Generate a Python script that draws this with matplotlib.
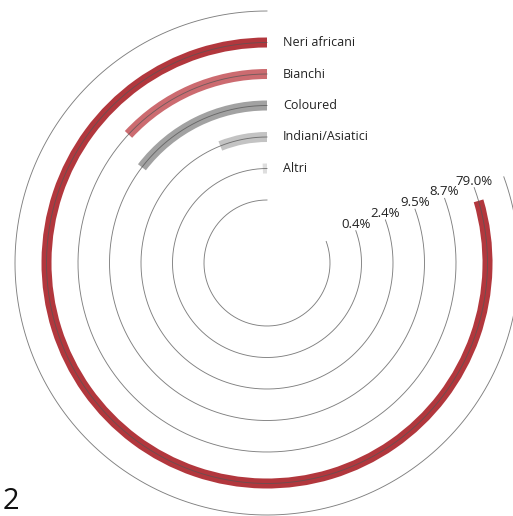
import numpy as np
import matplotlib
matplotlib.use("Agg")
import matplotlib.pyplot as plt

plt.rcParams["font.family"] = ["Open Sans", "DejaVu Sans"]

# dati (dall'interno verso l'esterno)
categorie = ["Altri", "Indiani/Asiatici", "Coloured", "Bianchi", "Neri africani"]
etichette_pct = ["0.4%", "2.4%", "9.5%", "8.7%", "79.0%"]
# lunghezza degli archi (scala 0-80)
valori_arco = [0.7, 6.0, 14.5, 13.0, 79.0]
colori = ["#dedede", "#c3c3c3", "#a2a2a2", "#cc6b70", "#b2373d"]

scala_max = 80.0
arco_max = np.deg2rad(290)   # apertura della traccia
passo = 31.5                 # distanza tra gli anelli (px)

W, H = 513, 516
cx, cy = 267, 263            # centro in pixel
R = 262

fig = plt.figure(figsize=(W / 100, H / 100), dpi=100)
ax = fig.add_axes([(cx - R) / W, (H - cy - R) / H, 2 * R / W, 2 * R / H],
                  projection="polar")
ax.set_theta_zero_location("N")
ax.set_theta_direction(1)
ax.set_rlim(0, R)
ax.set_axis_off()

# anelli sottili: uno vuoto all'interno, uno per categoria, uno vuoto all'esterno
n_anelli = len(categorie) + 2
theta = np.linspace(0, arco_max, 400)
for i in range(n_anelli):
    r = (i + 2) * passo
    ax.plot(theta, np.full_like(theta, r), color="#555555", lw=0.65,
            alpha=0.75, zorder=3)

for i, (cat, pct, val, col) in enumerate(zip(categorie, etichette_pct,
                                             valori_arco, colori)):
    r = (i + 3) * passo
    span = val / scala_max * arco_max
    ax.bar(span / 2, 10, width=span, bottom=r - 5, color=col,
           edgecolor="none", zorder=2)
    # nome della categoria in cima
    ax.annotate(cat, xy=(0, r), xytext=(11.5, 0), textcoords="offset points",
                ha="left", va="center", fontsize=9, color="#222222")
    # percentuale alla fine della traccia
    ax.annotate(pct, xy=(arco_max, r), xytext=(0, 0), textcoords="offset points",
                ha="center", va="bottom", fontsize=9.5, color="#222222")

fig.text(3 / W, 1 - 509 / H, "2", fontsize=21, color="#111111",
         ha="left", va="baseline")

plt.savefig("out.png", dpi=100)
